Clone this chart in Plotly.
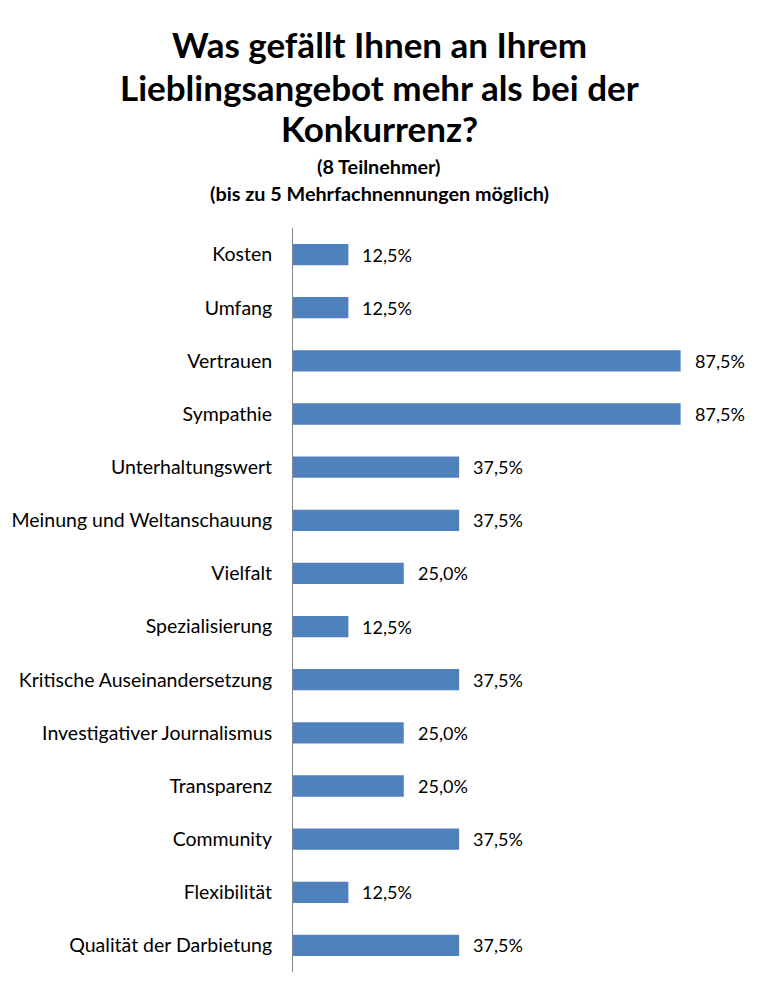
import plotly.graph_objects as go

categories = ["Kosten", "Umfang", "Vertrauen", "Sympathie", "Unterhaltungswert",
              "Meinung und Weltanschauung", "Vielfalt", "Spezialisierung",
              "Kritische Auseinandersetzung", "Investigativer Journalismus",
              "Transparenz", "Community", "Flexibilität", "Qualität der Darbietung"]
values = [12.5, 12.5, 87.5, 87.5, 37.5, 37.5, 25.0, 12.5, 37.5, 25.0, 25.0, 37.5, 12.5, 37.5]
title_lines = ["Was gefällt Ihnen an Ihrem", "Lieblingsangebot mehr als bei der", "Konkurrenz?"]
subtitle_lines = ["(8 Teilnehmer)", "(bis zu 5 Mehrfachnennungen möglich)"]

FONT = "Lato"
W, H = 759, 995
top, bottom = 228, 972
left = 293
plot_w = 443.4

def py(p):
    return (bottom - p) / (bottom - top)

labels = [f"{v:.1f}".replace(".", ",") + "%" for v in values]

fig = go.Figure(go.Bar(
    x=values, y=categories, orientation="h",
    marker=dict(color="#4F81BD", line=dict(width=0)),
    width=0.4, hoverinfo="skip",
))

annotations = []
for c, v, t in zip(categories, values, labels):
    annotations.append(dict(x=v, y=c, xref="x", yref="y", text=t, showarrow=False,
                            xanchor="left", yanchor="middle", xshift=12,
                            font=dict(family=FONT, size=18, color="#000000")))

page_center_paper = (W / 2 - left) / plot_w

title_y = [44, 87, 128]
for t, yy in zip(title_lines, title_y):
    annotations.append(dict(x=page_center_paper, xref="paper", y=py(yy), yref="paper",
                            text=f"<b>{t}</b>", showarrow=False, xanchor="center",
                            yanchor="middle",
                            font=dict(family=FONT, size=35, color="#000000")))
sub_y = [166, 193]
for t, yy in zip(subtitle_lines, sub_y):
    annotations.append(dict(x=page_center_paper, xref="paper", y=py(yy), yref="paper",
                            text=f"<b>{t}</b>", showarrow=False, xanchor="center",
                            yanchor="middle",
                            font=dict(family=FONT, size=19.8, color="#000000")))

fig.update_layout(
    width=W, height=H,
    margin=dict(l=left, r=W - left - plot_w, t=top, b=H - bottom, pad=0),
    paper_bgcolor="white", plot_bgcolor="white",
    showlegend=False,
    annotations=annotations,
    bargap=0.6,
    xaxis=dict(range=[0, 100], visible=False, fixedrange=True),
    yaxis=dict(categoryorder="array", categoryarray=categories, autorange="reversed",
               showline=True, linecolor="#868686", linewidth=1, ticks="",
               showgrid=False, zeroline=False, ticklabelstandoff=16,
               tickfont=dict(family=FONT, size=19.5, color="#000000")),
    font=dict(family=FONT),
)

fig.write_html("out.html")
